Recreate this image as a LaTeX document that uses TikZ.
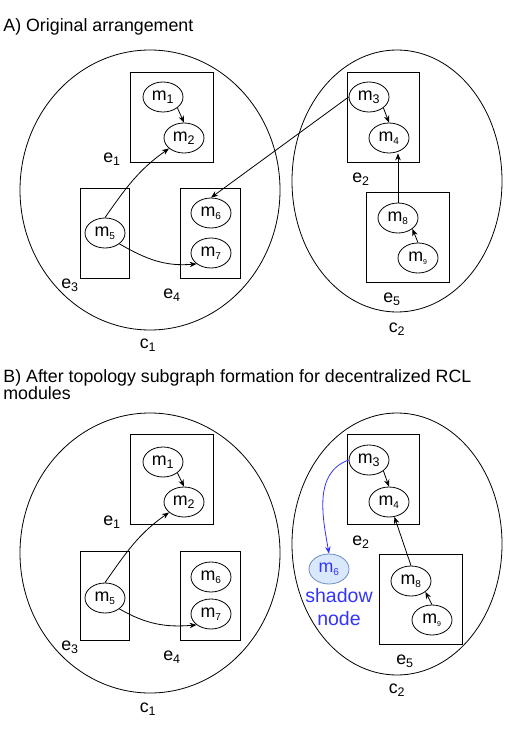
\documentclass[tikz,border=0pt]{standalone}
\usepackage{fontspec}
\setmainfont{Liberation Sans}
\usetikzlibrary{arrows.meta, shapes.geometric, positioning}
\definecolor{shadowfill}{HTML}{DAE8FC}
\definecolor{shadowline}{HTML}{6C8EBF}
\definecolor{shadowtext}{HTML}{3333FF}
\newcommand*{\mname}[2][12.5]{m\textsubscript{\fontsize{#1}{#1}\selectfont #2}}

\begin{document}
\begin{tikzpicture}[
        x=1pt, y=1pt, line width=0.8pt, >={Stealth[length=7pt,width=5.5pt]},
        every node/.style={font=\fontsize{17.8}{21}\selectfont, inner sep=0pt},
        module/.style={draw, ellipse, minimum width=40pt, minimum height=30pt},
        shadow/.style={module, fill=shadowfill, draw=shadowline, text=shadowtext},
        ]
        \useasboundingbox (0,0) rectangle (510,-730);

        % A) original arrangement
        \node[anchor=base west] (titleA) at (3,-31.5) {A) Original arrangement};

        \draw (150,-190) ellipse [x radius=130, y radius=140];
        \draw (397,-181) ellipse [x radius=105, y radius=131];
        \draw (130,-72) rectangle (213,-162);
        \draw (80,-188) rectangle (129,-278);
        \draw (180,-188) rectangle (240,-278);
        \draw (347,-72) rectangle (419,-162);
        \draw (366,-192) rectangle (449,-282);

        \node[module] (m1) at (163,-97) {\mname{1}};
        \node[module] (m2) at (184,-138) {\mname{2}};
        \node[module] (m5) at (105,-233) {\mname[10]{5}};
        \node[module] (m6) at (211,-213) {\mname[10]{6}};
        \node[module] (m7) at (211,-253) {\mname[10]{7}};
        \node[module] (m3) at (369,-97) {\mname{3}};
        \node[module] (m4) at (389,-138) {\mname[10]{4}};
        \node[module] (m8) at (398,-218) {\mname[10]{8}};
        \node[module] (m9) at (418,-258) {\mname[7]{9}};

        \node (e1) at (112,-159) {e\textsubscript{1}};
        \node (e3) at (70,-285) {e\textsubscript{3}};
        \node (e4) at (172,-295) {e\textsubscript{4}};
        \node (c1) at (148,-345) {c\textsubscript{1}};
        \node (e2) at (361,-179) {e\textsubscript{2}};
        \node (e5) at (392,-299) {e\textsubscript{5}};
        \node (c2) at (397,-329) {c\textsubscript{2}};

        \draw[->] (m1.south east) -- (m2.north);
        \draw[->] (m5.north) to[out=55,in=215] (m2);
        \draw[->] (m5.south east) to[out=-30,in=185] (m7.south west);
        \draw[->] (m3.west) -- (m6.north);
        \draw[->] (m3.south east) -- (m4.north);
        \draw[->] (m8.north) -- (m8.north |- m4.south);
        \draw[->] (m9.north) -- (m8.south east);

        % B) after subgraph formation
        \node[anchor=north west, align=left, font=\fontsize{17.8}{15}\selectfont] (titleB) at (3,-369)
            {B) After topology subgraph formation for decentralized RCL\\modules};

        \draw (150,-553) ellipse [x radius=130, y radius=140];
        \draw (397,-544) ellipse [x radius=105, y radius=131];
        \draw (130,-434) rectangle (213,-524);
        \draw (80,-551) rectangle (129,-640);
        \draw (180,-551) rectangle (240,-640);
        \draw (347,-434) rectangle (419,-524);
        \draw (379,-554) rectangle (462,-644);

        \node[module] (m1b) at (163,-462) {\mname{1}};
        \node[module] (m2b) at (184,-502) {\mname{2}};
        \node[module] (m5b) at (105,-598) {\mname[10]{5}};
        \node[module] (m6b) at (211,-577) {\mname[10]{6}};
        \node[module] (m7b) at (211,-614) {\mname[10]{7}};
        \node[module] (m3b) at (369,-460) {\mname{3}};
        \node[module] (m4b) at (389,-502) {\mname[10]{4}};
        \node[module] (m8b) at (411,-581) {\mname[10]{8}};
        \node[module] (m9b) at (432,-620) {\mname[7]{9}};
        \node[shadow] (m6s) at (329,-569) {\mname[10]{6}};
        \node[text=shadowtext, align=center, font=\fontsize{19.5}{23}\selectfont, below=4pt of m6s, xshift=10pt] (shadowlab)
            {shadow\\node};

        \node (e1b) at (112,-522) {e\textsubscript{1}};
        \node (e3b) at (70,-647) {e\textsubscript{3}};
        \node (e4b) at (172,-657) {e\textsubscript{4}};
        \node (c1b) at (148,-709) {c\textsubscript{1}};
        \node (e2b) at (361,-542) {e\textsubscript{2}};
        \node (e5b) at (405,-661) {e\textsubscript{5}};
        \node (c2b) at (397,-690) {c\textsubscript{2}};

        \draw[->] (m1b.south east) -- (m2b.north);
        \draw[->] (m5b.north) to[out=55,in=215] (m2b);
        \draw[->] (m5b.south east) to[out=-30,in=185] (m7b.south west);
        \draw[->] (m3b.south east) -- (m4b.north);
        \draw[->] (m8b.north) -- (m4b.-70);
        \draw[->] (m9b.north) -- (m8b.south east);
        \draw[->, shadowtext] (m3b.west) to[out=200,in=100] (m6s.north);
      \end{tikzpicture}
\end{document}
